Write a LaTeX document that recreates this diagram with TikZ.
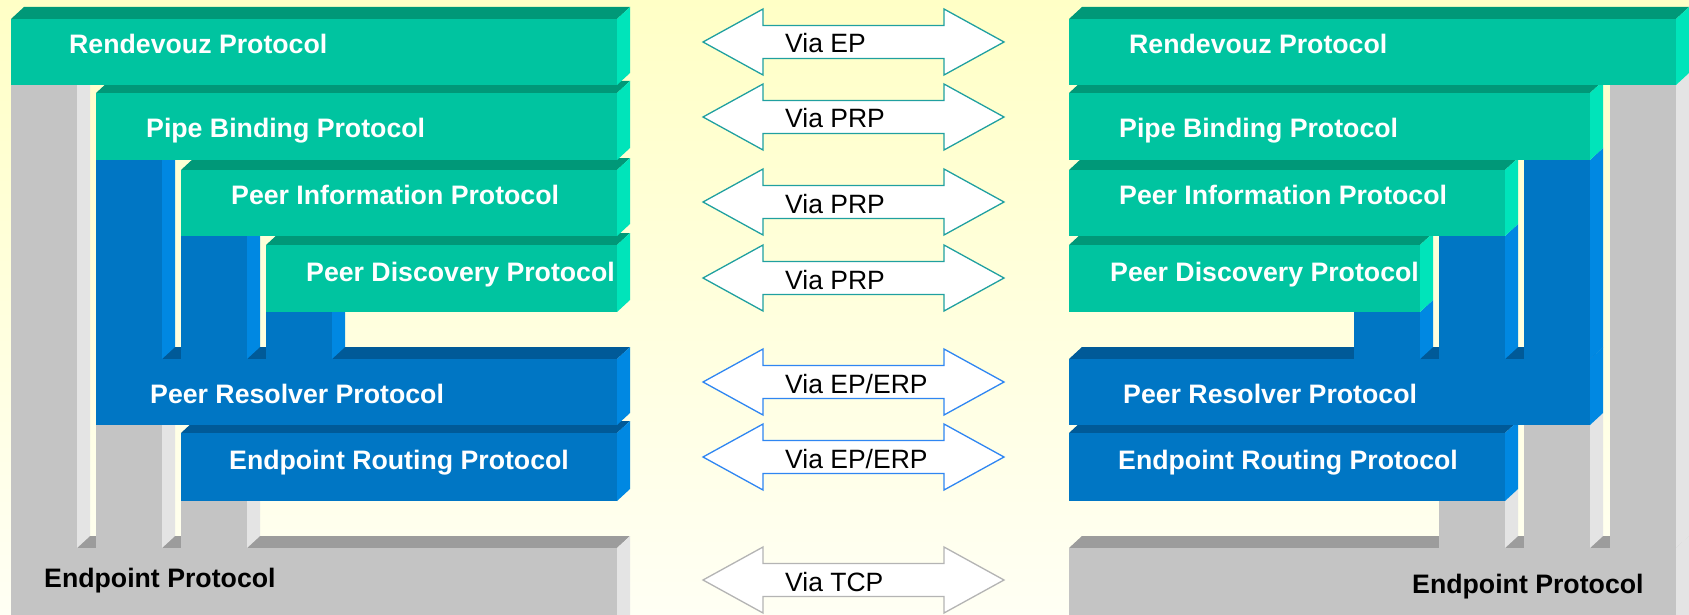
\documentclass[tikz,border=0pt]{standalone}
\usepackage{fontspec}
\setmainfont{Liberation Sans}
\definecolor{tealface}{HTML}{00C4A0}
\definecolor{tealtop}{HTML}{009878}
\definecolor{tealside}{HTML}{00E4BA}
\definecolor{blueface}{HTML}{0076C4}
\definecolor{bluetop}{HTML}{005A98}
\definecolor{blueside}{HTML}{0088E2}
\definecolor{greyface}{HTML}{C4C4C4}
\definecolor{greytop}{HTML}{9C9C9C}
\definecolor{greyside}{HTML}{E4E4E4}
\definecolor{linkteal}{HTML}{20A0A0}
\definecolor{linkblue}{HTML}{2F86F2}
\definecolor{linkgrey}{HTML}{B4B4B4}
\definecolor{bgtop}{HTML}{FFFFC6}
\definecolor{bgbot}{HTML}{FFFFF4}
\newcommand{\slabdx}{13}
\newcommand{\slabdy}{12}
% slab: x left, x right, y top, y bottom, colour family
\newcommand{\slab}[5]{%
  \fill[#5top] (#1,#3) -- ++(\slabdx,-\slabdy) -- (#2+\slabdx,#3-\slabdy) -- (#2,#3) -- cycle;
  \fill[#5side] (#2,#3) -- ++(\slabdx,-\slabdy) -- (#2+\slabdx,#4-\slabdy) -- (#2,#4) -- cycle;
  \fill[#5face] (#1,#3) rectangle (#2,#4);}
% pillar: x left, y top, y bottom, colour family
\newcommand{\pillar}[4]{%
  \fill[#4side] (#1+66,#2) -- ++(\slabdx,-\slabdy) -- (#1+66+\slabdx,#3-\slabdy) -- (#1+66,#3) -- cycle;
  \fill[#4face] (#1,#2) rectangle (#1+66,#3);}
\tikzset{
  barlab/.style={anchor=base west, inner sep=0pt, font=\fontsize{26.7}{30}\selectfont\bfseries, text=white},
  baselab/.style={barlab, text=black},
  link/.style={draw=#1, fill=white, line width=1.3pt, line join=miter},
  vialab/.style={anchor=base west, inner sep=0pt, font=\fontsize{26.5}{30}\selectfont, text=black},
}

\begin{document}
\begin{tikzpicture}[x=1pt,y=-1pt]
  \useasboundingbox (0,0) rectangle (1689,615);
  \clip (0,0) rectangle (1689,615);
  \shade[top color=bgtop, bottom color=bgbot] (0,0) rectangle (1689,615);

  % left stack
  \slab{11}{617}{548}{640}{grey}
  \foreach \x/\y in {11/85, 96/425, 181/501} \pillar{\x}{\y}{548}{grey};
  \slab{181}{617}{433}{501}{blue}
  \slab{96}{617}{359}{425}{blue}
  \foreach \x/\y in {96/160, 181/236, 266/312} \pillar{\x}{\y}{359}{blue};
  \slab{266}{617}{245}{312}{teal}
  \slab{181}{617}{170}{236}{teal}
  \slab{96}{617}{93}{160}{teal}
  \slab{11}{617}{19}{85}{teal}

  % right stack
  \slab{1069}{1676}{548}{640}{grey}
  \foreach \x/\y in {1610/85, 1524/425, 1439/501} \pillar{\x}{\y}{548}{grey};
  \slab{1069}{1505}{433}{501}{blue}
  \slab{1069}{1590}{359}{425}{blue}
  \foreach \x/\y in {1354/312, 1439/236, 1524/160} \pillar{\x}{\y}{359}{blue};
  \slab{1069}{1420}{245}{312}{teal}
  \slab{1069}{1505}{170}{236}{teal}
  \slab{1069}{1590}{93}{160}{teal}
  \slab{1069}{1676}{19}{85}{teal}

  % labels
  \node[barlab] (lrdv) at (69,54) {Rendevouz Protocol};
  \node[barlab] (lpbp) at (146,138) {Pipe Binding Protocol};
  \node[barlab] (lpip) at (231,204) {Peer Information Protocol};
  \node[barlab] (lpdp) at (306,281) {Peer Discovery Protocol};
  \node[barlab] (lprp) at (150,403) {Peer Resolver Protocol};
  \node[barlab] (lerp) at (229,469) {Endpoint Routing Protocol};
  \node[baselab] (lep) at (44,587) {Endpoint Protocol};
  \node[barlab] (rrdv) at (1129,54) {Rendevouz Protocol};
  \node[barlab] (rpbp) at (1119,138) {Pipe Binding Protocol};
  \node[barlab] (rpip) at (1119,204) {Peer Information Protocol};
  \node[barlab] (rpdp) at (1110,281) {Peer Discovery Protocol};
  \node[barlab] (rprp) at (1123,403) {Peer Resolver Protocol};
  \node[barlab] (rerp) at (1118,469) {Endpoint Routing Protocol};
  \node[baselab] (rep) at (1412,593) {Endpoint Protocol};

  % links between the stacks
  \foreach \t/\txt/\col [count=\i] in {42/{Via EP}/linkteal, 117/{Via PRP}/linkteal, 202/{Via PRP}/linkteal, 278/{Via PRP}/linkteal, 382/{Via EP/ERP}/linkblue, 457/{Via EP/ERP}/linkblue, 580/{Via TCP}/linkgrey} {
    \draw[link=\col] (703,\t) -- (763,\t-33) -- (763,\t-16.5) -- (944,\t-16.5) -- (944,\t-33) -- (1004,\t)
      -- (944,\t+33) -- (944,\t+16.5) -- (763,\t+16.5) -- (763,\t+33) -- cycle;
    \node[vialab] (via\i) at (785,\t+11) {\txt};
  }
\end{tikzpicture}
\end{document}
